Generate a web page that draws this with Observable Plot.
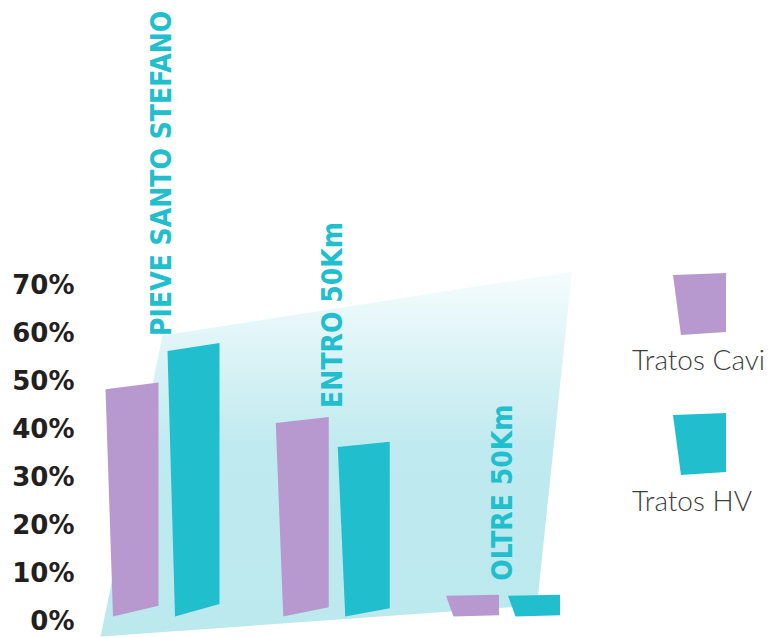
<!DOCTYPE html>
<html>
<head>
<meta charset="utf-8">
<script src="https://cdn.jsdelivr.net/npm/d3@7"></script>
<script src="https://cdn.jsdelivr.net/npm/@observablehq/plot@0.6"></script>
<style>
  body { margin: 0; background: #fff; }
  #wrap { position: relative; width: 770px; height: 637px; overflow: hidden; }
  #chart { position: absolute; left: 0; top: 0; }
  .chart g[aria-label^="y-axis"] text {
    font-family: "DejaVu Sans", sans-serif;
    font-weight: bold;
    font-size: 26px;
    fill: #231f20;
  }
  .legend-swatch {
    position: absolute; width: 53px; height: 62px;
    clip-path: polygon(0 3.2%, 100% 0, 100% 95.2%, 15% 100%);
  }
  .legend-label {
    position: absolute; left: 632px;
    font-family: Lato, "Open Sans", sans-serif; font-weight: 300; font-size: 28px;
    line-height: 28px; color: #3c3c3c; white-space: nowrap;
  }
</style>
</head>
<body>
<div id="wrap">
  <div id="chart"></div>
  <div id="legend"></div>
</div>
<script>
// ---- data ----
const groups = ["PIEVE SANTO STEFANO", "ENTRO 50Km", "OLTRE 50Km"];
const seriesNames = ["Tratos Cavi", "Tratos HV"];
const caviValues = [49, 42, 6];
const hvValues = [57, 37, 6];
const yTicks = [0, 10, 20, 30, 40, 50, 60, 70];
const seriesColors = ["#b799d0", "#21bfcd"];
// decorative backdrop polygon, in data units (group index, percent)
const backdropX = [-0.364, 0, 2.405, 2.2];
const backdropY = [-2.5, 60.2, 73.5, 4.0];

// ---- layout ----
const xRange = [162, 502.5];
const yRange = [624, 288];
const pxX = (xRange[1] - xRange[0]) / 2;          // px per group unit
const pxY = (yRange[0] - yRange[1]) / 70;          // px per percent
const barSpan = [[-57 / pxX, -4 / pxX], [5 / pxX, 57 / pxX]]; // per series, x offsets
const slant = 7.5 / pxX;        // left-side slant
const baseY = 8 / pxY;          // raised bottom-left corner
const topTilt = 0.029, bottomTilt = 0.046;

const valuesBySeries = [caviValues, hvValues];
function barPolys(s) {
  const rows = [];
  valuesBySeries[s].forEach((v, i) => {
    const x1 = i + barSpan[s][0], x2 = i + barSpan[s][1];
    const id = s + "-" + i;
    rows.push({id, x: x1, y: v});
    rows.push({id, x: x2, y: v * (1 + topTilt)});
    rows.push({id, x: x2, y: baseY + v * bottomTilt});
    rows.push({id, x: x1 + slant, y: baseY});
  });
  return rows;
}
const backdrop = backdropX.map((x, i) => ({x, y: backdropY[i]}));
const labelRows = groups.map((g, i) => ({g, i, top: Math.max(caviValues[i], hvValues[i])}));

const chart = Plot.plot({
  width: 600, height: 637,
  marginLeft: 80, marginTop: 0, marginRight: 0, marginBottom: 0,
  className: "chart",
  x: {type: "linear", domain: [0, 2], range: xRange, axis: null},
  y: {domain: [0, 70], range: yRange, ticks: yTicks, tickFormat: d => d + "%",
      tickSize: 0, tickPadding: 6, label: null, axis: "left"},
  marks: [
    Plot.line(backdrop, {x: "x", y: "y", fill: "url(#bgGrad)", stroke: "none"}),
    Plot.line(barPolys(0), {x: "x", y: "y", z: "id", fill: seriesColors[0], stroke: "none"}),
    Plot.line(barPolys(1), {x: "x", y: "y", z: "id", fill: seriesColors[1], stroke: "none"}),
    Plot.text(labelRows, {
      x: "i", y: "top", text: "g", rotate: -90, textAnchor: "start", dy: -15,
      fill: seriesColors[1], fontSize: 28, fontWeight: "bold",
      fontFamily: "'DejaVu Sans Condensed', 'DejaVu Sans', sans-serif"
    })
  ]
});

// nudge the tick labels up a little so the lowest stays inside the picture
d3.select(chart).selectAll('g[aria-label^="y-axis"] text').attr("dy", "-0.1em");

// gradient for backdrop
const defs = d3.select(chart).insert("defs", ":first-child");
const grad = defs.append("linearGradient").attr("id", "bgGrad")
  .attr("x1", 0).attr("y1", 0).attr("x2", 0).attr("y2", 1);
grad.append("stop").attr("offset", 0).attr("stop-color", "#f5fcfd");
grad.append("stop").attr("offset", 0.48).attr("stop-color", "#bfeaef");
grad.append("stop").attr("offset", 1).attr("stop-color", "#bbe9ee");

document.getElementById("chart").appendChild(chart);

// legend
const legend = document.getElementById("legend");
const swatchTops = [273, 413];
const labelTops = [345, 486];
seriesNames.forEach((name, i) => {
  const sw = document.createElement("div");
  sw.className = "legend-swatch";
  sw.style.left = "673px";
  sw.style.top = swatchTops[i] + "px";
  sw.style.background = seriesColors[i];
  legend.appendChild(sw);
  const lb = document.createElement("div");
  lb.className = "legend-label";
  lb.style.top = labelTops[i] + "px";
  lb.textContent = name;
  legend.appendChild(lb);
});
</script>
</body>
</html>
